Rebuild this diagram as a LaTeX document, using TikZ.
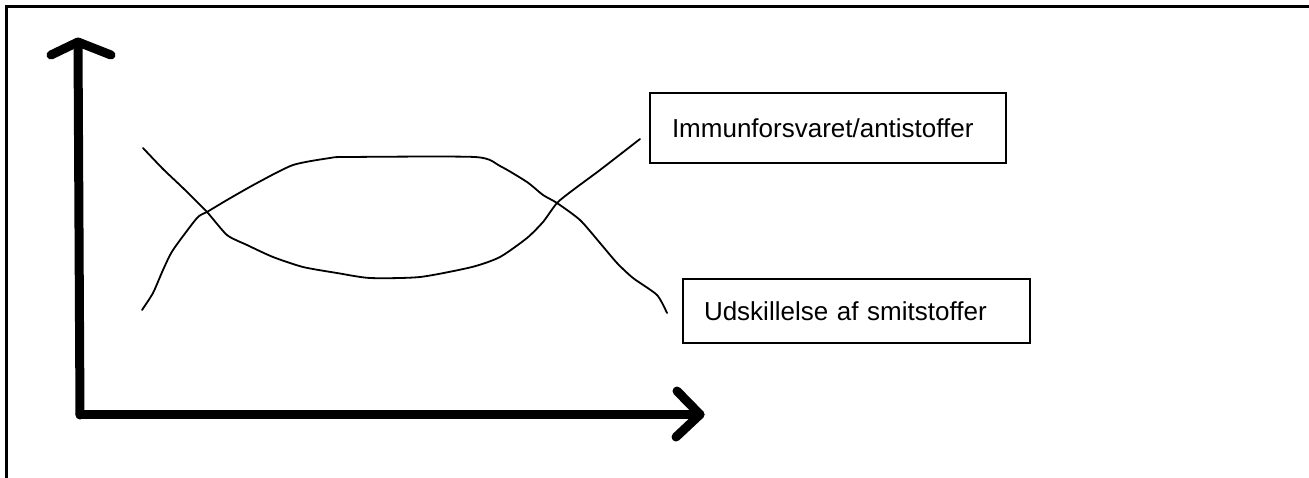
\documentclass[tikz,border=0pt]{standalone}
\usepackage{fontspec}
\setmainfont{Liberation Sans}
\begin{document}
\begin{tikzpicture}[x=1pt,y=-1pt,
  axisline/.style={line width=9pt, line cap=round, line join=round},
  frameline/.style={line width=3pt},
  curveline/.style={line width=1.8pt, line join=round, line cap=round},
  labelbox/.style={draw, line width=2pt, font=\fontsize{26}{30}\selectfont, align=left, anchor=west}]
\useasboundingbox (0,0) rectangle (1309,477);
% outer frame (top and left)
\coordinate (FB) at (6,478);
\coordinate (FC) at (6,6);
\coordinate (FR) at (1310,6);
\draw[frameline] (FB) -- (FC) -- (FR);
% axes
\coordinate (O) at (80,414.5);
\coordinate (Ytip) at (78,42);
\coordinate (YwL) at (51,55);
\coordinate (YwR) at (111,55);
\coordinate (Xtip) at (700,414.5);
\coordinate (XwT) at (677,391);
\coordinate (XwB) at (676,437);
\draw[axisline] (O) -- (80,415) -- (Ytip);
\draw[axisline] (YwL) -- (Ytip) -- (YwR);
\draw[axisline] (O) -- (Xtip);
\draw[axisline] (XwT) -- (Xtip) -- (XwB);
% curves
\draw[curveline] plot[smooth, tension=0.4] coordinates {
  (142,310) (153,293) (163,270) (173,250) (197,218) (207,212) (227,200)
  (257,183) (293,165) (330,158) (347,157) (475,157) (500,166) (527,182) (543,195)
  (557,203) (580,220) (600,243) (617,263) (633,278) (657,295) (667,313)};
\draw[curveline] plot[smooth, tension=0.4] coordinates {
  (143,148) (163,169) (183,188) (207,212) (227,235) (247,245) (273,257)
  (303,267) (337,273) (370,278) (420,277) (472,267) (500,257) (527,238)
  (543,222) (557,203) (573,190) (600,170) (640,139)};
% labels
\node[labelbox, text width=312pt, inner xsep=22pt, minimum height=70pt] (imm) at (649,128) {Immunforsvaret/antistoffer};
\node[labelbox, text width=305pt, inner xsep=21pt, minimum height=64pt] (uds) at (682,311) {Udskillelse af smitstoffer};
\end{tikzpicture}
\end{document}
